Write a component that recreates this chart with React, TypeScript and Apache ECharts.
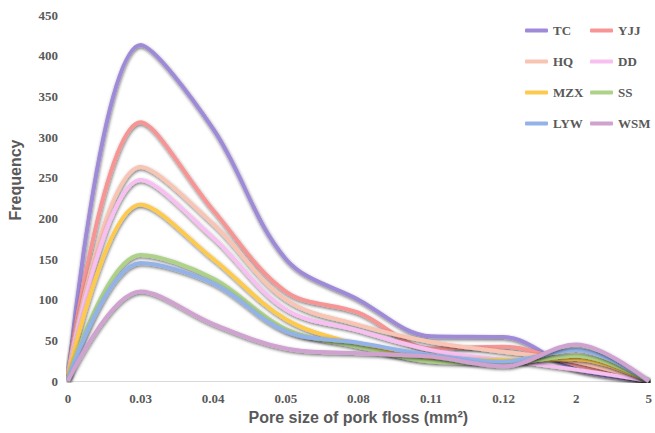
import React, { useEffect, useRef } from "react";
import * as echarts from "echarts";

const categories = ["0", "0.03", "0.04", "0.05", "0.08", "0.11", "0.12", "2", "5"];
const seriesNames = ["TC", "YJJ", "HQ", "DD", "MZX", "SS", "LYW", "WSM"];
const TC = [5, 413, 310, 150, 100, 55, 54, 14, 0];
const YJJ = [8, 318, 210, 110, 84, 40, 42, 20, 0];
const HQ = [10, 263, 193, 100, 69, 48, 36, 24, 0];
const DD = [8, 247, 176, 88, 62, 38, 26, 14, 0];
const MZX = [5, 217, 150, 76, 45, 27, 26, 27, 0];
const SS = [3, 155, 126, 64, 42, 24, 22, 31, 0];
const LYW = [2, 145, 120, 61, 47, 32, 24, 38, 0];
const WSM = [0, 110, 70, 40, 34, 30, 18, 45, 0];
const seriesValues = [TC, YJJ, HQ, DD, MZX, SS, LYW, WSM];
const colors = ["#9f8ad8", "#f79494", "#f8c4b4", "#f7c0f0", "#fdca4e", "#aed28a", "#93b3e8", "#cfa2cf"];

export default function App() {
  const ref = useRef<HTMLDivElement>(null);
  useEffect(() => {
    if (!ref.current) return;
    const chart = echarts.init(ref.current, null, { renderer: "svg" });
    const legendText = {
      fontFamily: "Liberation Serif",
      fontWeight: "bold",
      fontSize: 13,
      color: "#595959",
    };
    const legendBase = {
      orient: "vertical",
      top: 19,
      itemGap: 18,
      itemWidth: 23,
      itemHeight: 4,
      icon: "roundRect",
      textStyle: legendText,
      itemStyle: { shadowBlur: 0, shadowColor: "transparent" },
      lineStyle: { shadowBlur: 0, shadowColor: "transparent" },
    };
    chart.setOption({
      animation: false,
      color: colors,
      grid: { left: 68, right: -5, top: 15, bottom: 52, containLabel: false },
      legend: [
        { ...legendBase, left: 520, data: ["TC", "HQ", "MZX", "LYW"] },
        { ...legendBase, left: 585, data: ["YJJ", "DD", "SS", "WSM"] },
      ],
      xAxis: {
        type: "category",
        data: categories,
        boundaryGap: false,
        name: "Pore size of pork floss (mm²)",
        nameLocation: "middle",
        nameGap: 28,
        nameTextStyle: {
          fontFamily: "Liberation Sans",
          fontWeight: "bold",
          fontSize: 16,
          color: "#595959",
        },
        axisLine: { lineStyle: { color: "#d9d9d9", width: 1 } },
        axisTick: { show: false },
        axisLabel: {
          fontFamily: "Liberation Serif",
          fontWeight: "bold",
          fontSize: 13,
          color: "#595959",
          margin: 11,
        },
        splitLine: { show: false },
      },
      yAxis: {
        type: "value",
        min: 0,
        max: 450,
        interval: 50,
        axisLine: { show: false },
        axisTick: { show: false },
        splitLine: { show: false },
        axisLabel: {
          fontFamily: "Liberation Serif",
          fontWeight: "bold",
          fontSize: 13,
          color: "#595959",
          margin: 10,
        },
      },
      graphic: [
        {
          type: "text",
          x: 15,
          y: 180,
          rotation: Math.PI / 2,
          style: {
            text: "Frequency",
            fontFamily: "Liberation Sans",
            fontWeight: "bold",
            fontSize: 16,
            fill: "#595959",
            align: "center",
            verticalAlign: "middle",
          },
        },
      ],
      series: seriesNames.map((name, i) => ({
        name,
        type: "line",
        data: seriesValues[i],
        smooth: 0.35,
        symbol: "none",
        lineStyle: {
          width: 4,
          color: colors[i],
          shadowColor: "rgba(0,0,0,0.55)",
          shadowBlur: 3,
          shadowOffsetX: 0.5,
          shadowOffsetY: 1.5,
        },
      })),
    });
    return () => chart.dispose();
  }, []);
  return (
    <div
      ref={ref}
      style={{ position: "fixed", left: 0, top: 0, width: 655, height: 433, background: "#fff" }}
    />
  );
}
